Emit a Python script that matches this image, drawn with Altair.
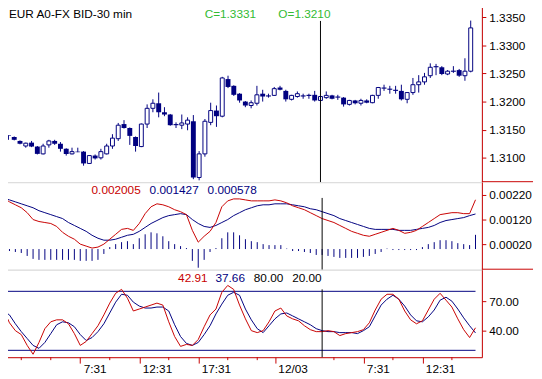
import altair as alt
import pandas as pd

FONT = "Liberation Sans"
NAVY = "#000080"
RED = "#c80000"
GREEN = "#33bb33"

TITLE = "EUR A0-FX BID-30 min"
HEAD_O = "O=1.3210"

opens = [1.3140, 1.3137, 1.3130, 1.3121, 1.3127, 1.3120, 1.3107, 1.3123, 1.3130, 1.3125,
         1.3116, 1.3107, 1.3111, 1.3111, 1.3090, 1.3104, 1.3100, 1.3107, 1.3121, 1.3134,
         1.3160, 1.3153, 1.3137, 1.3120, 1.3160, 1.3188, 1.3197, 1.3181, 1.3177, 1.3160,
         1.3158, 1.3160, 1.3165, 1.3065, 1.3107, 1.3163, 1.3184, 1.3174, 1.3240, 1.3228,
         1.3214, 1.3200, 1.3193, 1.3197, 1.3214, 1.3211, 1.3211, 1.3225, 1.3219, 1.3204,
         1.3209, 1.3211, 1.3212, 1.3212, 1.3202, 1.3207, 1.3211, 1.3209, 1.3207, 1.3195,
         1.3202, 1.3197, 1.3202, 1.3198, 1.3211, 1.3225, 1.3223, 1.3221, 1.3219, 1.3204,
         1.3216, 1.3230, 1.3235, 1.3246, 1.3263, 1.3261, 1.3249, 1.3255, 1.3256, 1.3246,
         1.3254]
highs = [1.3140, 1.3138, 1.3131, 1.3127, 1.3130, 1.3121, 1.3125, 1.3132, 1.3132, 1.3128,
         1.3117, 1.3118, 1.3118, 1.3112, 1.3105, 1.3106, 1.3116, 1.3125, 1.3142, 1.3162,
         1.3167, 1.3154, 1.3138, 1.3161, 1.3195, 1.3204, 1.3216, 1.3190, 1.3178, 1.3163,
         1.3177, 1.3172, 1.3176, 1.3112, 1.3169, 1.3198, 1.3193, 1.3244, 1.3246, 1.3229,
         1.3215, 1.3201, 1.3202, 1.3228, 1.3221, 1.3214, 1.3226, 1.3228, 1.3221, 1.3212,
         1.3218, 1.3214, 1.3214, 1.3219, 1.3210, 1.3218, 1.3212, 1.3212, 1.3208, 1.3203,
         1.3203, 1.3205, 1.3204, 1.3212, 1.3226, 1.3230, 1.3228, 1.3228, 1.3230, 1.3217,
         1.3242, 1.3247, 1.3251, 1.3268, 1.3267, 1.3263, 1.3256, 1.3263, 1.3258, 1.3277,
         1.3344]
lows = [1.3132, 1.3131, 1.3124, 1.3118, 1.3119, 1.3106, 1.3106, 1.3118, 1.3123, 1.3111,
        1.3104, 1.3106, 1.3110, 1.3086, 1.3089, 1.3097, 1.3097, 1.3106, 1.3116, 1.3130,
        1.3152, 1.3123, 1.3111, 1.3119, 1.3153, 1.3181, 1.3172, 1.3174, 1.3157, 1.3153,
        1.3151, 1.3149, 1.3062, 1.3060, 1.3102, 1.3158, 1.3155, 1.3172, 1.3224, 1.3210,
        1.3198, 1.3190, 1.3188, 1.3193, 1.3200, 1.3207, 1.3210, 1.3220, 1.3200, 1.3202,
        1.3207, 1.3205, 1.3205, 1.3200, 1.3201, 1.3205, 1.3204, 1.3203, 1.3191, 1.3193,
        1.3195, 1.3193, 1.3197, 1.3197, 1.3205, 1.3219, 1.3214, 1.3214, 1.3202, 1.3197,
        1.3212, 1.3216, 1.3230, 1.3242, 1.3247, 1.3247, 1.3247, 1.3251, 1.3244, 1.3237,
        1.3252]
closes = [1.3139, 1.3132, 1.3125, 1.3126, 1.3120, 1.3107, 1.3121, 1.3130, 1.3125, 1.3116,
          1.3107, 1.3111, 1.3110, 1.3090, 1.3104, 1.3099, 1.3111, 1.3121, 1.3135, 1.3158,
          1.3153, 1.3139, 1.3121, 1.3160, 1.3188, 1.3197, 1.3181, 1.3177, 1.3158, 1.3158,
          1.3162, 1.3167, 1.3065, 1.3107, 1.3165, 1.3184, 1.3174, 1.3242, 1.3226, 1.3212,
          1.3202, 1.3193, 1.3198, 1.3212, 1.3209, 1.3209, 1.3223, 1.3221, 1.3204, 1.3211,
          1.3214, 1.3209, 1.3210, 1.3202, 1.3209, 1.3211, 1.3205, 1.3207, 1.3195, 1.3202,
          1.3197, 1.3202, 1.3198, 1.3211, 1.3225, 1.3223, 1.3221, 1.3219, 1.3204, 1.3216,
          1.3230, 1.3235, 1.3244, 1.3261, 1.3261, 1.3249, 1.3254, 1.3253, 1.3246, 1.3254,
          1.3331]

macd = [0.00208, 0.00192, 0.00180, 0.00168, 0.00148, 0.00120, 0.00112, 0.00108, 0.00104, 0.00092,
        0.00068, 0.00052, 0.00040, 0.00020, 0.00012, 0.00004, 0.00008, 0.00020, 0.00040, 0.00060,
        0.00080, 0.00084, 0.00076, 0.00104, 0.00144, 0.00172, 0.00184, 0.00180, 0.00172, 0.00160,
        0.00152, 0.00140, 0.00076, 0.00028, 0.00052, 0.00072, 0.00108, 0.00172, 0.00196, 0.00204,
        0.00204, 0.00200, 0.00196, 0.00196, 0.00196, 0.00196, 0.00200, 0.00196, 0.00188, 0.00176,
        0.00168, 0.00160, 0.00148, 0.00136, 0.00124, 0.00116, 0.00108, 0.00096, 0.00084, 0.00072,
        0.00064, 0.00056, 0.00052, 0.00060, 0.00068, 0.00076, 0.00084, 0.00076, 0.00064, 0.00068,
        0.00076, 0.00092, 0.00108, 0.00124, 0.00140, 0.00144, 0.00148, 0.00148, 0.00144, 0.00144,
        0.002005]
signal = [0.00208, 0.00200, 0.00192, 0.00184, 0.00176, 0.00168, 0.00156, 0.00148, 0.00140, 0.00132,
          0.00124, 0.00108, 0.00096, 0.00084, 0.00072, 0.00056, 0.00044, 0.00036, 0.00036, 0.00040,
          0.00048, 0.00056, 0.00060, 0.00072, 0.00088, 0.00104, 0.00116, 0.00128, 0.00136, 0.00140,
          0.00144, 0.00140, 0.00120, 0.00104, 0.00092, 0.00088, 0.00096, 0.00108, 0.00120, 0.00136,
          0.00148, 0.00160, 0.00168, 0.00176, 0.00180, 0.00180, 0.00184, 0.00184, 0.00184, 0.00180,
          0.00176, 0.00172, 0.00164, 0.00160, 0.00152, 0.00144, 0.00136, 0.00124, 0.00116, 0.00108,
          0.00100, 0.00092, 0.00084, 0.00080, 0.00080, 0.00080, 0.00080, 0.00076, 0.00076, 0.00076,
          0.00080, 0.00084, 0.00088, 0.00096, 0.00108, 0.00116, 0.00120, 0.00124, 0.00128, 0.00136,
          0.001427]
hist = [-0.00008, -0.00008, -0.00012, -0.00016, -0.00028, -0.00040, -0.00044, -0.00044, -0.00044, -0.00044,
        -0.00044, -0.00044, -0.00044, -0.00048, -0.00048, -0.00048, -0.00044, -0.00020, 0.00008, 0.00020,
        0.00028, 0.00032, 0.00020, 0.00044, 0.00060, 0.00068, 0.00064, 0.00052, 0.00032, 0.00020,
        0.00012, 0.00004, -0.00048, -0.00076, -0.00044, -0.00012, 0.00004, 0.00044, 0.00068, 0.00068,
        0.00056, 0.00040, 0.00032, 0.00028, 0.00020, 0.00016, 0.00016, 0.00016, 0.00002, -0.00008,
        -0.00008, -0.00012, -0.00016, -0.00024, -0.00024, -0.00028, -0.00032, -0.00036, -0.00036, -0.00036,
        -0.00036, -0.00032, -0.00028, -0.00020, -0.00012, 0.00002, -0.00004, -0.00004, -0.00004, -0.00004,
        -0.00004, 0.00008, 0.00020, 0.00028, 0.00036, 0.00036, 0.00032, 0.00024, 0.00020, 0.00016,
        0.000578]

stoch_k = [61, 48, 40, 36, 25, 16, 28, 42, 49, 51,
           51, 47, 37, 25, 29, 37, 45, 56, 68, 78,
           82, 73, 60, 62, 64, 66, 68, 66, 49, 34,
           24, 26, 25, 31, 44, 56, 62, 79, 86, 82,
           66, 52, 40, 38, 40, 49, 60, 63, 55, 52,
           50, 45, 41, 39, 39, 40, 39, 35, 37, 38,
           39, 41, 48, 61, 72, 77, 77, 72, 60, 51,
           47, 50, 61, 72, 78, 71, 64, 52, 41, 33,
           42.91]
stoch_d = [60, 56, 47, 39, 32, 25, 22, 28, 37, 46,
           49, 48, 44, 36, 30, 33, 39, 47, 58, 69,
           77, 76, 69, 65, 63, 63, 64, 64, 60, 46,
           34, 27, 25, 28, 36, 45, 57, 67, 76, 79,
           76, 62, 51, 42, 38, 45, 52, 57, 58, 55,
           52, 49, 46, 42, 40, 39, 39, 38, 38, 38,
           37, 40, 44, 55, 66, 72, 76, 72, 65, 56,
           50, 49, 54, 61, 71, 74, 70, 62, 53, 45,
           37.66]

MAJOR_IDX = [14, 24, 34, 47, 62, 72]
MAJOR_LABELS = ["7:31", "12:31", "17:31", "12/03", "7:31", "12:31"]
MINOR_IDX = [4, 9, 19, 29, 39, 44, 57, 67, 77]
CURSOR_IDX = [55]
PRICE_TICKS = [1.3100, 1.3150, 1.3200, 1.3250, 1.3300, 1.3350]
MACD_TICKS = [0.0002, 0.0012, 0.0022]
STOCH_TICKS = [40, 70]
STOCH_LEVELS = [80, 20]

n = len(opens)
idx = list(range(1, n + 1))

W = 489
H1, H2, H3 = 181, 89, 89
x0 = 1 - 2.5 / 6
xscale = alt.Scale(domain=[x0, x0 + W / 6], nice=False, zero=False)
pscale = alt.Scale(domain=[1.305665, 1.337308], nice=False, zero=False)
mscale = alt.Scale(domain=[-0.00084, 0.00272], nice=False, zero=False)
sscale = alt.Scale(domain=[13, 102], nice=False, zero=False)


def yaxis(values, fmt):
    return alt.Axis(orient="right", values=values, format=fmt, grid=False,
                    domainColor=RED, tickColor=RED, tickSize=4, labelPadding=3,
                    labelColor="black", labelFont=FONT, labelFontSize=12,
                    title=None, labelOverlap=False, labelFlush=False)


expr = "''"
for v, lab in reversed(list(zip(MAJOR_IDX, MAJOR_LABELS))):
    expr = f"datum.value == {v} ? '{lab}' : ({expr})"

xaxis_bottom = alt.Axis(orient="bottom", values=MAJOR_IDX, labelExpr=expr,
                        domainColor=RED, tickColor=RED, tickSize=6,
                        labelAlign="left", labelOffset=3, labelPadding=1,
                        labelFont=FONT, labelFontSize=12, labelColor="black",
                        grid=False, labelOverlap=False, labelFlush=False, title=None)


def X(field="i:Q", axis=None):
    return alt.X(field, scale=xscale, axis=axis, title=None)


def text_layer(txt, px, py, color):
    return alt.Chart(pd.DataFrame({"t": [txt]})).mark_text(
        align="left", baseline="alphabetic", font=FONT, fontSize=12, color=color
    ).encode(x=alt.value(px), y=alt.value(py), text="t:N")


# ---------- price panel ----------
pdf = pd.DataFrame({"i": idx, "open": opens, "high": highs, "low": lows, "close": closes})
paxis = yaxis(PRICE_TICKS, ".4f")


def PY(f):
    return alt.Y(f, scale=pscale, axis=paxis, title=None)


wicks = alt.Chart(pdf).mark_rule(color=NAVY, strokeWidth=1).encode(
    x=X(), y=PY("low:Q"), y2="high:Q")
down = alt.Chart(pdf).transform_filter("datum.close <= datum.open").mark_bar(
    size=5, color=NAVY).encode(x=X(), y=PY("open:Q"), y2="close:Q")
up = alt.Chart(pdf).transform_filter("datum.close > datum.open").mark_bar(
    size=4, fill="white", stroke=NAVY, strokeWidth=1).encode(x=X(), y=PY("open:Q"), y2="close:Q")
cur1 = alt.Chart(pd.DataFrame({"i": CURSOR_IDX})).mark_rule(color="black", strokeWidth=1).encode(
    x=X(), y=alt.value(17), y2=alt.value(H1))
sep1 = alt.Chart(pd.DataFrame({"a": [0]})).mark_rule(color=RED, strokeWidth=1).encode(
    x=alt.value(W), x2=alt.value(541), y=alt.value(H1 - 0.5))

price = alt.layer(
    wicks, down, up, cur1, sep1,
    text_layer(TITLE, 8, 14, "black"),
    text_layer(f"C={closes[-1]:.4f}", 207, 14, GREEN),
    text_layer(HEAD_O, 282, 14, GREEN),
).properties(width=W, height=H1)

# ---------- MACD panel ----------
mdf = pd.DataFrame({"i": idx, "macd": macd, "signal": signal, "hist": hist, "zero": [0.0] * n})
maxis = yaxis(MACD_TICKS, ".5f")


def MY(f):
    return alt.Y(f, scale=mscale, axis=maxis, title=None)


hbars = alt.Chart(mdf).mark_rule(color=NAVY, strokeWidth=1).encode(
    x=X(), y=MY("hist:Q"), y2="zero:Q")
mline = alt.Chart(mdf).mark_line(color=RED, strokeWidth=1).encode(x=X(), y=MY("macd:Q"))
sline = alt.Chart(mdf).mark_line(color=NAVY, strokeWidth=1).encode(x=X(), y=MY("signal:Q"))
cur2 = alt.Chart(pd.DataFrame({"i": CURSOR_IDX})).mark_rule(color="black", strokeWidth=1).encode(
    x=X(), y=alt.value(16), y2=alt.value(H2))
sep2 = alt.Chart(pd.DataFrame({"a": [0]})).mark_rule(color=RED, strokeWidth=1).encode(
    x=alt.value(W), x2=alt.value(541), y=alt.value(H2 - 0.5))

macd_panel = alt.layer(
    hbars, sline, mline, cur2, sep2,
    text_layer(f"{macd[-1]:.6f}", 92, 12, RED),
    text_layer(f"{signal[-1]:.6f}", 151, 12, NAVY),
    text_layer(f"{hist[-1]:.6f}", 210, 12, NAVY),
).properties(width=W, height=H2)

# ---------- Stochastic panel ----------
sdf = pd.DataFrame({"i": idx, "k": stoch_k, "d": stoch_d})
saxis = yaxis(STOCH_TICKS, ".2f")


def SY(f):
    return alt.Y(f, scale=sscale, axis=saxis, title=None)


ldf = pd.DataFrame({"lvl": STOCH_LEVELS, "s": [idx[0]] * len(STOCH_LEVELS), "e": [idx[-1]] * len(STOCH_LEVELS)})
levels = alt.Chart(ldf).mark_rule(color=NAVY, strokeWidth=1).encode(
    x=X("s:Q", xaxis_bottom), x2="e:Q", y=SY("lvl:Q"))
kline = alt.Chart(sdf).mark_line(color=RED, strokeWidth=1).encode(x=X("i:Q", xaxis_bottom), y=SY("k:Q"))
dline = alt.Chart(sdf).mark_line(color=NAVY, strokeWidth=1).encode(x=X("i:Q", xaxis_bottom), y=SY("d:Q"))
cur3 = alt.Chart(pd.DataFrame({"i": CURSOR_IDX})).mark_rule(color="black", strokeWidth=1).encode(
    x=X("i:Q", xaxis_bottom), y=alt.value(20), y2=alt.value(H3))
minor = alt.Chart(pd.DataFrame({"i": MINOR_IDX})).mark_rule(color=RED, strokeWidth=1).encode(
    x=X("i:Q", xaxis_bottom), y=alt.value(H3), y2=alt.value(H3 + 3))

stoch_panel = alt.layer(
    levels, dline, kline, cur3, minor,
    text_layer(f"{stoch_k[-1]:.2f}", 180, 13, RED),
    text_layer(f"{stoch_d[-1]:.2f}", 218, 13, NAVY),
    text_layer(f"{STOCH_LEVELS[0]:.2f}", 257, 13, "black"),
    text_layer(f"{STOCH_LEVELS[1]:.2f}", 296, 13, "black"),
).properties(width=W, height=H3)

chart = alt.vconcat(price, macd_panel, stoch_panel, spacing=0, bounds="flush").properties(
    padding={"left": -8, "top": -8, "right": 0, "bottom": 0}
).configure_view(stroke=None).configure(background="white")

chart.save("out.html", embed_options={"renderer": "svg", "actions": False})
